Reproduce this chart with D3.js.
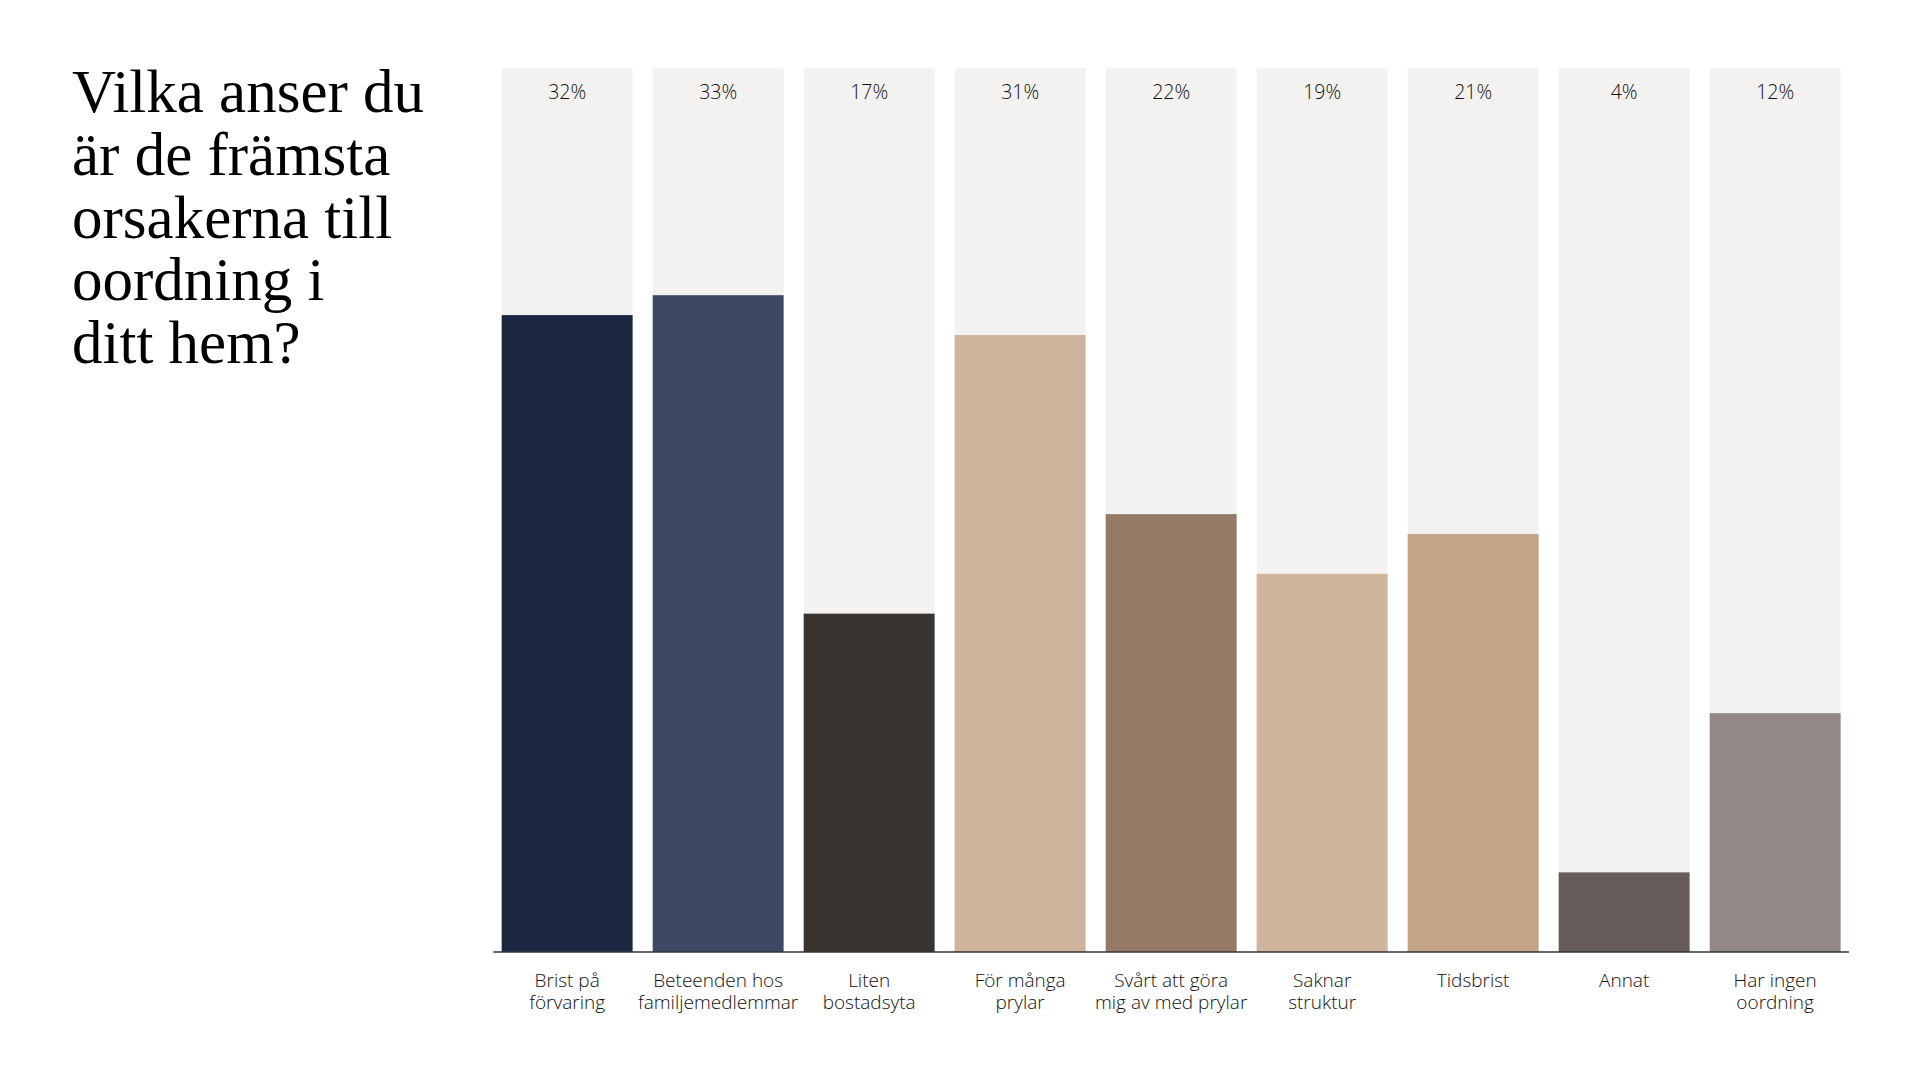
<!DOCTYPE html>
<html>
<head>
<meta charset="utf-8">
<script src="https://cdn.jsdelivr.net/npm/d3@7/dist/d3.min.js"></script>
<style>
  html, body { margin: 0; padding: 0; background: #ffffff; }
  svg { display: block; }
</style>
</head>
<body>
<svg id="chart" width="1920" height="1080"></svg>
<script>
// ---- data ----
const titleLines = ["Vilka anser du", "är de främsta", "orsakerna till", "oordning i", "ditt hem?"];
const categories = [
  ["Brist på", "förvaring"],
  ["Beteenden hos", "familjemedlemmar"],
  ["Liten", "bostadsyta"],
  ["För många", "prylar"],
  ["Svårt att göra", "mig av med prylar"],
  ["Saknar", "struktur"],
  ["Tidsbrist"],
  ["Annat"],
  ["Har ingen", "oordning"]
];
const values = [32, 33, 17, 31, 22, 19, 21, 4, 12];
const valueLabels = ["32%", "33%", "17%", "31%", "22%", "19%", "21%", "4%", "12%"];
const scaleMax = 44.4;
const barColors = ["#1b2640", "#3d4863", "#3a3431", "#cfb59b", "#947967", "#cfb59b", "#c4a487", "#655b59", "#938886"];

// ---- layout ----
const svg = d3.select("#chart");
const x0 = 493.3, x1 = 1849, yTop = 68.3, yBase = 952;

const keys = categories.map((c, i) => i);
const x = d3.scaleBand().domain(keys).range([x0, x1]).paddingInner(0.133).paddingOuter(0.0556);
const y = d3.scaleLinear().domain([0, scaleMax]).range([yBase, yTop]);

// title
const title = svg.append("text")
  .attr("x", 72)
  .attr("y", 111)
  .attr("font-family", "'Liberation Serif', 'DejaVu Serif', serif")
  .attr("font-size", 61)
  .attr("fill", "#000");
title.selectAll("tspan").data(titleLines).join("tspan")
  .attr("x", 72)
  .attr("y", (d, i) => 112 + i * 62.8)
  .text(d => d);

// background bars
svg.append("g").selectAll("rect").data(keys).join("rect")
  .attr("x", d => x(d))
  .attr("width", x.bandwidth())
  .attr("y", y(scaleMax))
  .attr("height", y(0) - y(scaleMax))
  .attr("fill", "#f3f2f0");

// value bars
svg.append("g").selectAll("rect").data(keys).join("rect")
  .attr("x", d => x(d))
  .attr("width", x.bandwidth())
  .attr("y", d => y(values[d]))
  .attr("height", d => y(0) - y(values[d]))
  .attr("fill", d => barColors[d]);

// value labels
svg.append("g").selectAll("text").data(keys).join("text")
  .attr("x", d => x(d) + x.bandwidth() / 2)
  .attr("y", 99.3)
  .attr("text-anchor", "middle")
  .attr("font-family", "'Open Sans', sans-serif")
  .attr("font-weight", 300)
  .attr("font-size", 19.5)
  .attr("fill", "#111")
  .text(d => valueLabels[d]);

// x axis
const axis = d3.axisBottom(x).tickSize(0).tickFormat("");
const ag = svg.append("g").attr("transform", `translate(0,${yBase})`).call(axis);
ag.select(".domain").attr("stroke", "#333").attr("stroke-width", 1.5)
  .attr("d", `M${x0},0H${x1}`);

// category labels
const lg = svg.append("g");
keys.forEach(k => {
  const t = lg.append("text")
    .attr("text-anchor", "middle")
    .attr("font-family", "'Open Sans', sans-serif")
    .attr("font-weight", 300)
    .attr("font-size", 19)
    .attr("fill", "#111");
  t.selectAll("tspan").data(categories[k]).join("tspan")
    .attr("x", x(k) + x.bandwidth() / 2)
    .attr("y", (d, i) => 986.5 + i * 22.7)
    .text(d => d);
});
</script>
</body>
</html>
